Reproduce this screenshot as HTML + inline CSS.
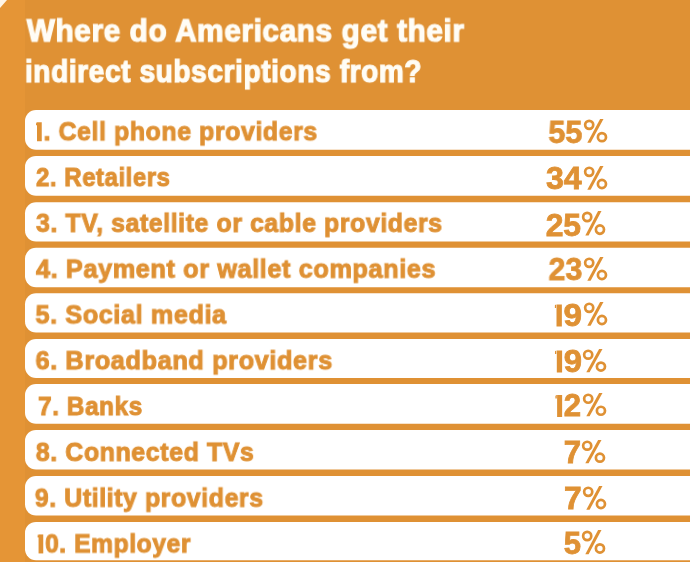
<!DOCTYPE html>
<html><head><meta charset="utf-8">
<style>
html,body{margin:0;padding:0;}
body{width:690px;height:562px;overflow:hidden;position:relative;background:#DF9134;font-family:"Liberation Sans",sans-serif;}
.band{position:absolute;left:0;top:0;width:25px;height:562px;background:#E59536;}
.t{position:absolute;left:0;top:0;font-weight:bold;white-space:nowrap;line-height:1;transform-origin:0 0;will-change:transform;}
.row{position:absolute;left:25px;width:700px;background:#FFFFFF;border-radius:11px;}
.bot{position:absolute;left:0;top:562px;width:690px;height:10px;background:#DF9134;}
.one{display:inline-block;position:relative;width:calc(0.2778em + var(--ls,0px));-webkit-text-fill-color:transparent;-webkit-text-stroke-color:transparent;}
.one::before{content:'';position:absolute;left:calc(0.0679em - var(--sw,0px)/2);top:calc(0.1587em - var(--sw,0px)/2);width:calc(0.142em + var(--sw,0px));height:calc(0.688em + var(--sw,0px));background:currentColor;}
.one::after{content:'';position:absolute;left:calc(0.0679em - var(--sw,0px)/2 - 0.05em);top:calc(0.1587em - var(--sw,0px)/2);width:0.05em;height:0.13em;background:currentColor;clip-path:polygon(100% 0,100% 100%,0 100%,0 40%);}
.hp{position:absolute;left:100%;top:0;-webkit-text-fill-color:transparent;-webkit-text-stroke-color:transparent;}
.corner{position:absolute;left:0;top:0;width:0;height:0;border-top:8px solid #FFF6E8;border-right:7px solid transparent;}
</style></head><body>
<div class="band"></div>
<div class="corner"></div>
<div class="t" style="font-size:30.6px;color:#FFFDF6;-webkit-text-stroke:1.2px #FFFDF6;letter-spacing:0.6px;--ls:0.6px;--sw:1.2px;transform:translate(26.70px,15.39px) scaleX(0.9747)">Where do Americans get their</div>
<div class="t" style="font-size:30.6px;color:#FFFDF6;-webkit-text-stroke:1.2px #FFFDF6;letter-spacing:0.6px;--ls:0.6px;--sw:1.2px;transform:translate(24.90px,56.09px) scaleX(0.9204)">indirect subscriptions from?</div>
<svg style="position:absolute;left:0;top:0" width="690" height="562"><rect x="25" y="110.00" width="720" height="39.70" rx="11" ry="11" fill="#FFFFFF"/><rect x="25" y="155.90" width="720" height="39.90" rx="11" ry="11" fill="#FFFFFF"/><rect x="25" y="202.30" width="720" height="39.20" rx="11" ry="11" fill="#FFFFFF"/><rect x="25" y="247.70" width="720" height="39.60" rx="11" ry="11" fill="#FFFFFF"/><rect x="25" y="293.30" width="720" height="39.20" rx="11" ry="11" fill="#FFFFFF"/><rect x="25" y="339.10" width="720" height="38.80" rx="11" ry="11" fill="#FFFFFF"/><rect x="25" y="384.10" width="720" height="39.60" rx="11" ry="11" fill="#FFFFFF"/><rect x="25" y="429.90" width="720" height="39.60" rx="11" ry="11" fill="#FFFFFF"/><rect x="25" y="476.00" width="720" height="39.40" rx="11" ry="11" fill="#FFFFFF"/><rect x="25" y="521.90" width="720" height="38.30" rx="11" ry="11" fill="#FFFFFF"/></svg>
<div class="t" style="font-size:26.3px;color:#DF9134;-webkit-text-stroke:1.0px #DF9134;letter-spacing:0.6px;--ls:0.6px;--sw:1.0px;transform:translate(36.00px,118.23px) scaleX(0.9480)"><span class=one>1</span>. Cell phone providers</div>
<div class="t" style="font-size:31.0px;color:#DF9134;-webkit-text-stroke:0.8px #DF9134;--sw:0.8px;left:auto;right:0;transform-origin:100% 0;transform:translate(-108.20px,117.00px) scaleX(0.9834)">55<span class=hp>%</span></div>
<svg class="pc" style="position:absolute;left:583.80px;top:119.40px;overflow:visible" width="23.40" height="23.85" viewBox="0 0 23.4 23.6" preserveAspectRatio="none"><circle cx="5.20" cy="5.80" r="4.05" fill="none" stroke="#DF9134" stroke-width="2.70"/><circle cx="17.95" cy="17.95" r="4.05" fill="none" stroke="#DF9134" stroke-width="2.70"/><polygon points="16.1,0 19.5,0 6.6,23.6 3.3,23.6" fill="#DF9134"/></svg>
<div class="t" style="font-size:26.3px;color:#DF9134;-webkit-text-stroke:1.0px #DF9134;letter-spacing:0.6px;--ls:0.6px;--sw:1.0px;transform:translate(36.00px,164.03px) scaleX(0.9118)">2. Retailers</div>
<div class="t" style="font-size:31.0px;color:#DF9134;-webkit-text-stroke:0.8px #DF9134;--sw:0.8px;left:auto;right:0;transform-origin:100% 0;transform:translate(-108.80px,163.10px) scaleX(1.0350)">34<span class=hp>%</span></div>
<svg class="pc" style="position:absolute;left:583.50px;top:165.70px;overflow:visible" width="23.40" height="23.65" viewBox="0 0 23.4 23.6" preserveAspectRatio="none"><circle cx="5.20" cy="5.80" r="4.05" fill="none" stroke="#DF9134" stroke-width="2.70"/><circle cx="17.95" cy="17.95" r="4.05" fill="none" stroke="#DF9134" stroke-width="2.70"/><polygon points="16.1,0 19.5,0 6.6,23.6 3.3,23.6" fill="#DF9134"/></svg>
<div class="t" style="font-size:26.3px;color:#DF9134;-webkit-text-stroke:1.0px #DF9134;letter-spacing:0.6px;--ls:0.6px;--sw:1.0px;transform:translate(36.00px,209.83px) scaleX(0.9473)">3. TV, satellite or cable providers</div>
<div class="t" style="font-size:31.0px;color:#DF9134;-webkit-text-stroke:0.8px #DF9134;--sw:0.8px;left:auto;right:0;transform-origin:100% 0;transform:translate(-109.40px,209.50px) scaleX(1.0281)">25<span class=hp>%</span></div>
<svg class="pc" style="position:absolute;left:582.20px;top:211.30px;overflow:visible" width="23.40" height="24.45" viewBox="0 0 23.4 23.6" preserveAspectRatio="none"><circle cx="5.20" cy="5.80" r="4.05" fill="none" stroke="#DF9134" stroke-width="2.70"/><circle cx="17.95" cy="17.95" r="4.05" fill="none" stroke="#DF9134" stroke-width="2.70"/><polygon points="16.1,0 19.5,0 6.6,23.6 3.3,23.6" fill="#DF9134"/></svg>
<div class="t" style="font-size:26.3px;color:#DF9134;-webkit-text-stroke:1.0px #DF9134;letter-spacing:0.6px;--ls:0.6px;--sw:1.0px;transform:translate(36.00px,255.63px) scaleX(0.9630)">4. Payment or wallet companies</div>
<div class="t" style="font-size:31.0px;color:#DF9134;-webkit-text-stroke:0.8px #DF9134;--sw:0.8px;left:auto;right:0;transform-origin:100% 0;transform:translate(-108.20px,253.90px) scaleX(0.9798)">23<span class=hp>%</span></div>
<svg class="pc" style="position:absolute;left:583.80px;top:256.50px;overflow:visible" width="23.40" height="23.65" viewBox="0 0 23.4 23.6" preserveAspectRatio="none"><circle cx="5.20" cy="5.80" r="4.05" fill="none" stroke="#DF9134" stroke-width="2.70"/><circle cx="17.95" cy="17.95" r="4.05" fill="none" stroke="#DF9134" stroke-width="2.70"/><polygon points="16.1,0 19.5,0 6.6,23.6 3.3,23.6" fill="#DF9134"/></svg>
<div class="t" style="font-size:26.3px;color:#DF9134;-webkit-text-stroke:1.0px #DF9134;letter-spacing:0.6px;--ls:0.6px;--sw:1.0px;transform:translate(35.50px,301.43px) scaleX(0.9607)">5. Social media</div>
<div class="t" style="font-size:31.0px;color:#DF9134;-webkit-text-stroke:0.8px #DF9134;--sw:0.8px;left:auto;right:0;transform-origin:100% 0;transform:translate(-107.80px,299.50px) scaleX(1.0709)"><span class=one>1</span>9<span class=hp>%</span></div>
<svg class="pc" style="position:absolute;left:583.50px;top:302.10px;overflow:visible" width="23.40" height="23.65" viewBox="0 0 23.4 23.6" preserveAspectRatio="none"><circle cx="5.20" cy="5.80" r="4.05" fill="none" stroke="#DF9134" stroke-width="2.70"/><circle cx="17.95" cy="17.95" r="4.05" fill="none" stroke="#DF9134" stroke-width="2.70"/><polygon points="16.1,0 19.5,0 6.6,23.6 3.3,23.6" fill="#DF9134"/></svg>
<div class="t" style="font-size:26.3px;color:#DF9134;-webkit-text-stroke:1.0px #DF9134;letter-spacing:0.6px;--ls:0.6px;--sw:1.0px;transform:translate(35.50px,347.23px) scaleX(0.9641)">6. Broadband providers</div>
<div class="t" style="font-size:31.0px;color:#DF9134;-webkit-text-stroke:0.8px #DF9134;--sw:0.8px;left:auto;right:0;transform-origin:100% 0;transform:translate(-107.80px,345.50px) scaleX(1.0581)"><span class=one>1</span>9<span class=hp>%</span></div>
<svg class="pc" style="position:absolute;left:583.00px;top:348.60px;overflow:visible" width="23.40" height="23.15" viewBox="0 0 23.4 23.6" preserveAspectRatio="none"><circle cx="5.20" cy="5.80" r="4.05" fill="none" stroke="#DF9134" stroke-width="2.70"/><circle cx="17.95" cy="17.95" r="4.05" fill="none" stroke="#DF9134" stroke-width="2.70"/><polygon points="16.1,0 19.5,0 6.6,23.6 3.3,23.6" fill="#DF9134"/></svg>
<div class="t" style="font-size:26.3px;color:#DF9134;-webkit-text-stroke:1.0px #DF9134;letter-spacing:0.6px;--ls:0.6px;--sw:1.0px;transform:translate(38.10px,393.03px) scaleX(0.9265)">7. Banks</div>
<div class="t" style="font-size:31.0px;color:#DF9134;-webkit-text-stroke:0.8px #DF9134;--sw:0.8px;left:auto;right:0;transform-origin:100% 0;transform:translate(-108.80px,390.00px) scaleX(1.0036)"><span class=one>1</span>2<span class=hp>%</span></div>
<svg class="pc" style="position:absolute;left:582.50px;top:392.90px;overflow:visible" width="23.40" height="23.35" viewBox="0 0 23.4 23.6" preserveAspectRatio="none"><circle cx="5.20" cy="5.80" r="4.05" fill="none" stroke="#DF9134" stroke-width="2.70"/><circle cx="17.95" cy="17.95" r="4.05" fill="none" stroke="#DF9134" stroke-width="2.70"/><polygon points="16.1,0 19.5,0 6.6,23.6 3.3,23.6" fill="#DF9134"/></svg>
<div class="t" style="font-size:26.3px;color:#DF9134;-webkit-text-stroke:1.0px #DF9134;letter-spacing:0.6px;--ls:0.6px;--sw:1.0px;transform:translate(35.80px,438.83px) scaleX(0.9492)">8. Connected TVs</div>
<div class="t" style="font-size:31.0px;color:#DF9134;-webkit-text-stroke:0.8px #DF9134;--sw:0.8px;left:auto;right:0;transform-origin:100% 0;transform:translate(-109.20px,436.50px) scaleX(1.0037)">7<span class=hp>%</span></div>
<svg class="pc" style="position:absolute;left:582.30px;top:439.50px;overflow:visible" width="23.40" height="23.25" viewBox="0 0 23.4 23.6" preserveAspectRatio="none"><circle cx="5.20" cy="5.80" r="4.05" fill="none" stroke="#DF9134" stroke-width="2.70"/><circle cx="17.95" cy="17.95" r="4.05" fill="none" stroke="#DF9134" stroke-width="2.70"/><polygon points="16.1,0 19.5,0 6.6,23.6 3.3,23.6" fill="#DF9134"/></svg>
<div class="t" style="font-size:26.3px;color:#DF9134;-webkit-text-stroke:1.0px #DF9134;letter-spacing:0.6px;--ls:0.6px;--sw:1.0px;transform:translate(34.80px,484.63px) scaleX(0.9479)">9. Utility providers</div>
<div class="t" style="font-size:31.0px;color:#DF9134;-webkit-text-stroke:0.8px #DF9134;--sw:0.8px;left:auto;right:0;transform-origin:100% 0;transform:translate(-108.60px,483.10px) scaleX(1.0234)">7<span class=hp>%</span></div>
<svg class="pc" style="position:absolute;left:582.60px;top:485.70px;overflow:visible" width="23.40" height="23.65" viewBox="0 0 23.4 23.6" preserveAspectRatio="none"><circle cx="5.20" cy="5.80" r="4.05" fill="none" stroke="#DF9134" stroke-width="2.70"/><circle cx="17.95" cy="17.95" r="4.05" fill="none" stroke="#DF9134" stroke-width="2.70"/><polygon points="16.1,0 19.5,0 6.6,23.6 3.3,23.6" fill="#DF9134"/></svg>
<div class="t" style="font-size:26.3px;color:#DF9134;-webkit-text-stroke:1.0px #DF9134;letter-spacing:0.6px;--ls:0.6px;--sw:1.0px;transform:translate(37.60px,530.43px) scaleX(0.9381)"><span class=one>1</span>0. Employer</div>
<div class="t" style="font-size:31.0px;color:#DF9134;-webkit-text-stroke:0.8px #DF9134;--sw:0.8px;left:auto;right:0;transform-origin:100% 0;transform:translate(-109.20px,528.00px) scaleX(1.0009)">5<span class=hp>%</span></div>
<svg class="pc" style="position:absolute;left:582.30px;top:530.00px;overflow:visible" width="23.40" height="24.25" viewBox="0 0 23.4 23.6" preserveAspectRatio="none"><circle cx="5.20" cy="5.80" r="4.05" fill="none" stroke="#DF9134" stroke-width="2.70"/><circle cx="17.95" cy="17.95" r="4.05" fill="none" stroke="#DF9134" stroke-width="2.70"/><polygon points="16.1,0 19.5,0 6.6,23.6 3.3,23.6" fill="#DF9134"/></svg>
<div class="bot"></div>
</body></html>
